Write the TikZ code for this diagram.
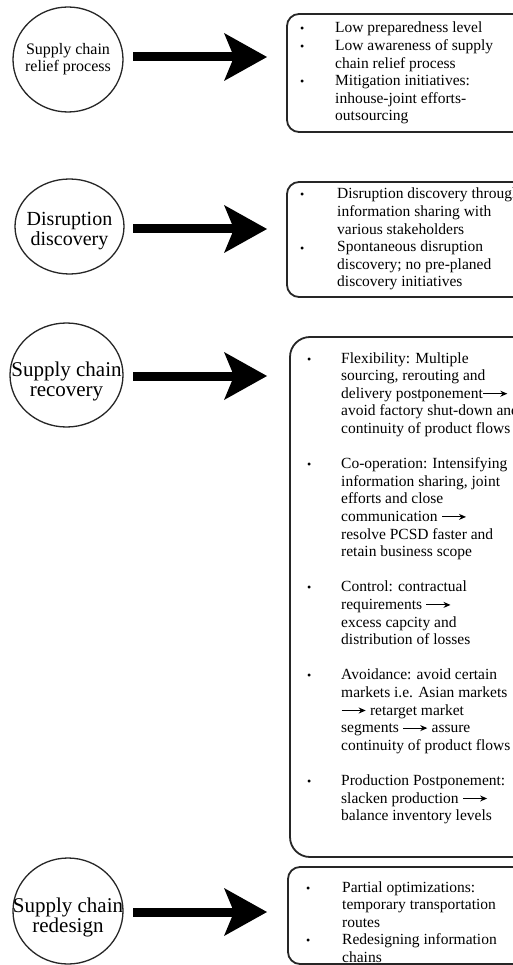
\documentclass[tikz,border=0pt]{standalone}
\usepackage{fontspec}
\setmainfont{Liberation Serif}
\usetikzlibrary{arrows.meta,shapes.geometric}
\newcommand{\myarr}{\tikz[x=1pt,y=1pt,baseline=-4.5pt]\draw[line width=1pt,-{Stealth[length=7pt,width=6pt]}] (0,0) -- (24,0);}
\newcommand{\myblock}[1]{\parbox[t]{250pt}{\raggedright #1}}
\begin{document}
\begin{tikzpicture}[x=1pt,y=-1pt,
  circ/.style={draw=black!85, line width=1.3pt, ellipse, inner sep=0pt, outer sep=0pt},
  ctxt/.style={align=center, inner sep=0pt},
  boxr/.style={draw=black!85, line width=1.8pt, rounded corners=#1, anchor=north west, inner sep=0pt, outer sep=0pt, minimum width=253pt},
  boxr/.default=12pt,
  bigarrow/.style={line width=9pt, black, -{Stealth[length=43pt,width=48pt,inset=10pt,line width=0pt]}},
  btxt/.style={anchor=base west, inner sep=0pt, font=\fontsize{15.5}{17.6}\selectfont},
  bdot/.style={anchor=base west, inner sep=0pt, font=\fontsize{12}{17.6}\selectfont}
]
\clip (0,0) rectangle (513,965);
\fill[white] (0,0) rectangle (513,965);

% circles
\node[circ, minimum width=110pt, minimum height=105pt] (c1) at (68,59.5) {};
\node[circ, minimum width=109pt, minimum height=95pt] (c2) at (69.5,226.5) {};
\node[circ, minimum width=113pt, minimum height=104pt] (c3) at (66.5,375) {};
\node[circ, minimum width=110pt, minimum height=106pt] (c4) at (68,911) {};

\node[ctxt, font=\fontsize{16}{17}\selectfont] (t1) at (c1.center) {Supply chain\\relief process};
\node[ctxt, font=\fontsize{20}{20}\selectfont] (t2) at ([yshift=-5pt]c2.center) {Disruption\\discovery};
\node[ctxt, font=\fontsize{21}{20}\selectfont] (t3) at ([yshift=-6pt]c3.center) {Supply chain\\recovery};
\node[ctxt, font=\fontsize{21}{20}\selectfont] (t4) at ([yshift=-6pt]c4.center) {Supply chain\\redesign};

% boxes
\node[boxr, minimum height=118pt] (b1) at (287,14) {};
\node[boxr, minimum height=115pt] (b2) at (287,182) {};
\node[boxr=20pt, minimum height=520pt] (b3) at (290,337) {};
\node[boxr, minimum height=97pt] (b4) at (288,867) {};

% arrows
\draw[bigarrow] ([xshift=10pt,yshift=2.5pt]c1.east) -- ([xshift=-20pt,yshift=2.5pt]c1.east -| b1.west);
\draw[bigarrow] ([xshift=9pt,yshift=-2.5pt]c2.east) -- ([xshift=-20pt,yshift=-2.5pt]c2.east -| b2.west);
\draw[bigarrow] ([xshift=10pt,yshift=-1pt]c3.east) -- ([xshift=-20pt,yshift=-1pt]c3.east -| b2.west);
\draw[bigarrow] ([xshift=10pt,yshift=-1pt]c4.east) -- ([xshift=-20pt,yshift=-1pt]c4.east -| b2.west);

% box 1 text
\node[bdot] (d11) at (300,33) {•};
\node[bdot] (d12) at (300,50.6) {•};
\node[bdot] (d13) at (300,85.8) {•};
\node[btxt] (x1) at (335,33) {\myblock{Low preparedness level\\
Low awareness of supply\\
chain relief process\\
Mitigation initiatives:\\
inhouse-joint efforts-\\
outsourcing}};

% box 2 text
\node[bdot] (d21) at (300,199) {•};
\node[bdot] (d22) at (300,252.4) {•};
\node[btxt] (x2) at (337,199) {\myblock{Disruption discovery through\\
information sharing with\\
various stakeholders\\
Spontaneous disruption\\
discovery; no pre-planed\\
discovery initiatives}};

% box 3 text
\node[bdot] (d31) at (307,363) {•};
\node[bdot] (d32) at (307,468.6) {•};
\node[bdot] (d33) at (307,591.8) {•};
\node[bdot] (d34) at (307,679.8) {•};
\node[bdot] (d35) at (307,785.4) {•};
\node[btxt] (x3) at (341,363) {\myblock{Flexibility: Multiple\\
sourcing, rerouting and\\
delivery postponement\myarr\\
avoid factory shut-down and\\
continuity of product flows\\
\mbox{}\\
Co-operation: Intensifying\\
information sharing, joint\\
efforts and close\\
communication \myarr\\
resolve PCSD faster and\\
retain business scope\\
\mbox{}\\
Control: contractual\\
requirements \myarr\\
excess capcity and\\
distribution of losses\\
\mbox{}\\
Avoidance: avoid certain\\
markets i.e. Asian markets\\
\myarr{} retarget market\\
segments \myarr{} assure\\
continuity of product flows\\
\mbox{}\\
Production Postponement:\\
slacken production \myarr\\
balance inventory levels}};

% box 4 text
\node[bdot] (d41) at (306,892) {•};
\node[bdot] (d42) at (306,944.8) {•};
\node[btxt] (x4) at (342,892) {\myblock{Partial optimizations:\\
temporary transportation\\
routes\\
Redesigning information\\
chains}};
\end{tikzpicture}
\end{document}
